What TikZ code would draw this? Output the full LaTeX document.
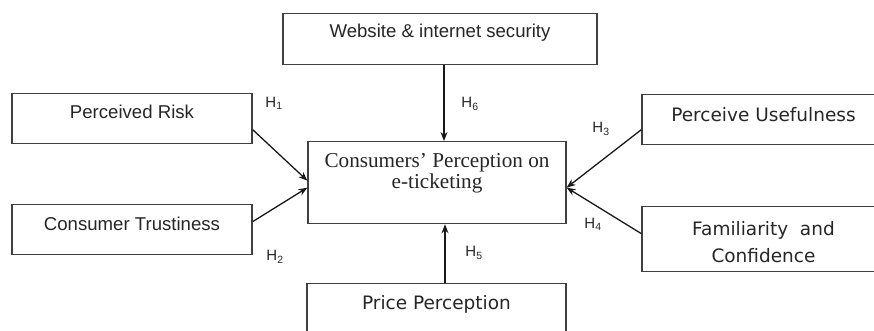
\documentclass[tikz,border=0pt]{standalone}
\usepackage{fontspec}
\setmainfont{Liberation Serif}
\newfontfamily\arialfont{Liberation Sans}
\newfontfamily\verdanafont{DejaVu Sans}
\usetikzlibrary{arrows.meta,positioning}

\tikzset{
  box/.style={draw=black!75, line width=1.3pt, inner sep=0pt, text=black!85, anchor=north},
  sans/.style={font=\arialfont\fontsize{18.6}{20}\selectfont},
  wide/.style={font=\verdanafont\fontsize{18.5}{27}\selectfont},
  serif/.style={font=\fontsize{21.2}{21}\selectfont},
  hlab/.style={font=\arialfont\fontsize{15}{15}\selectfont, text=black!85, inner sep=0pt},
  arr/.style={-{Stealth[length=9pt,width=7pt]}, line width=1.3pt, black!90}
}

\begin{document}
\begin{tikzpicture}[x=1pt,y=-1pt]
  \useasboundingbox (0,0) rectangle (874,331);
  \clip (0,0) rectangle (874,331);
  % construct boxes
  \node[box,sans,minimum width=314pt,text height=24pt,text depth=27pt] (ws) at (440,13) {Website \& internet security};
  \node[box,sans,minimum width=240pt,text height=25pt,text depth=25pt] (pr) at (132,93) {Perceived Risk};
  \node[box,sans,minimum width=240pt,text height=26pt,text depth=24pt] (ct) at (132,204) {Consumer Trustiness};
  \node[box,serif,align=center,minimum width=258pt,text height=47pt,text depth=35pt] (cp) at (437,141) {Consumers' Perception on\\e-ticketing};
  \node[box,wide,minimum width=243pt,text height=27pt,text depth=23pt] (pu) at (763.5,94) {Perceive Usefulness};
  \node[box,wide,align=center,minimum width=243pt,text height=56pt,text depth=9pt] (fc) at (763.5,206) {Familiarity\ \ and\\Confidence};
  \node[box,wide,minimum width=259pt,text height=26pt,text depth=24pt] (pp) at (436.5,283) {Price Perception};
  % hypotheses
  \draw[arr] ([yshift=-11pt]pr.east) -- ([yshift=2pt]cp.west);
  \draw[arr] ([yshift=8pt]ct.east) -- ([yshift=-5pt]cp.west);
  \draw[arr] ([yshift=-10pt]pu.west) -- ([yshift=-5pt]cp.east);
  \draw[arr] ([yshift=5.5pt]fc.west) -- ([yshift=-5pt]cp.east);
  \draw[arr] ([xshift=8.5pt]pp.north) -- ([xshift=8pt]cp.south);
  \draw[arr] ([xshift=4pt]ws.south) -- ([xshift=7pt]cp.north);
  \node[hlab] (h1) at (274,103) {H\textsubscript{1}};
  \node[hlab] (h2) at (275,257) {H\textsubscript{2}};
  \node[hlab] (h3) at (601,129) {H\textsubscript{3}};
  \node[hlab] (h4) at (593,224) {H\textsubscript{4}};
  \node[hlab] (h5) at (474,253) {H\textsubscript{5}};
  \node[hlab] (h6) at (470,104) {H\textsubscript{6}};
\end{tikzpicture}
\end{document}
